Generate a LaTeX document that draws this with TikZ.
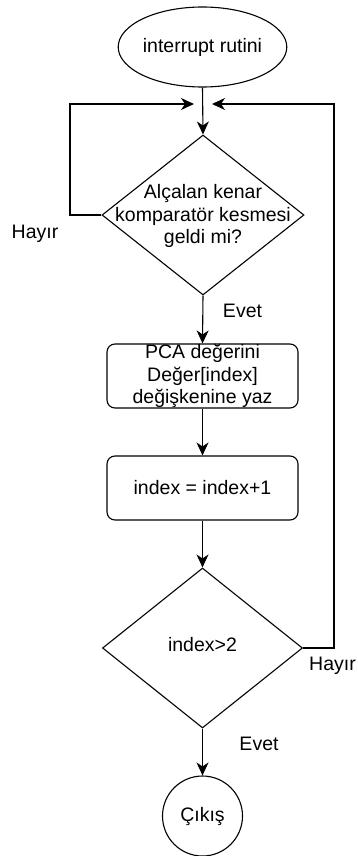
\documentclass[tikz,border=0pt]{standalone}
\usepackage{fontspec}
\setmainfont{Liberation Sans}
\usetikzlibrary{shapes.geometric,arrows.meta}
\begin{document}
\begin{tikzpicture}[x=1pt,y=-1pt,
  every node/.style={font=\fontsize{19.5}{22.5}\selectfont, text=black},
  line/.style={draw=black, line width=1.1pt},
  arr/.style={line, -{Stealth[length=13pt,width=12pt,inset=4pt]}},
  startbox/.style={line, ellipse, minimum width=145pt, minimum height=80pt, inner sep=0pt},
  dia/.style={line, diamond, inner sep=0pt},
  procbox/.style={line, rounded corners=8pt, minimum width=191pt, minimum height=64pt, inner sep=0pt, align=center},
  endbox/.style={line, circle, minimum size=80pt, inner sep=0pt},
  lbl/.style={inner sep=0pt, anchor=base}
]
\useasboundingbox (0,0) rectangle (357,856);

\node[startbox] (start) at (202.5,47) {interrupt rutini};
\node[dia, minimum width=202pt, minimum height=160pt] (d1) at (203,215) {};
\node[inner sep=0pt, align=center] (d1t) at (203,216) {Alçalan kenar\\komparatör kesmesi\\geldi mi?};
\node[procbox] (r1) at (202.5,376) {PCA değerini\\Değer[index]\\değişkenine yaz};
\node[procbox] (r2) at (202.5,488) {index = index+1};
\node[dia, minimum width=200pt, minimum height=160pt] (d2) at (202.5,648) {};
\node[inner sep=0pt] (d2t) at (202.5,645) {index>2};
\node[endbox] (end) at (202.5,816) {Çıkış};

\coordinate (jl) at (194,104);
\coordinate (jr) at (212,104);
\coordinate (ml) at (70,104);
\coordinate (mr) at (334,104);

\draw[arr] (start.south) -- (d1.north);
\draw[arr] (d1.west) -| (ml) -- (jl);
\draw[arr] (d2.east) -| (mr) -- (jr);
\draw[arr] (d1.south) -- (r1.north);
\draw[arr] (r1.south) -- (r2.north);
\draw[arr] (r2.south) -- (d2.north);
\draw[arr] (d2.south) -- (end.north);

\node[lbl] (h1) at (35,238) {Hayır};
\node[lbl] (e1) at (242.5,317) {Evet};
\node[lbl, anchor=base east] (h2) at (356,670) {Hayır};
\node[lbl] (e2) at (259,750) {Evet};
\end{tikzpicture}
\end{document}
